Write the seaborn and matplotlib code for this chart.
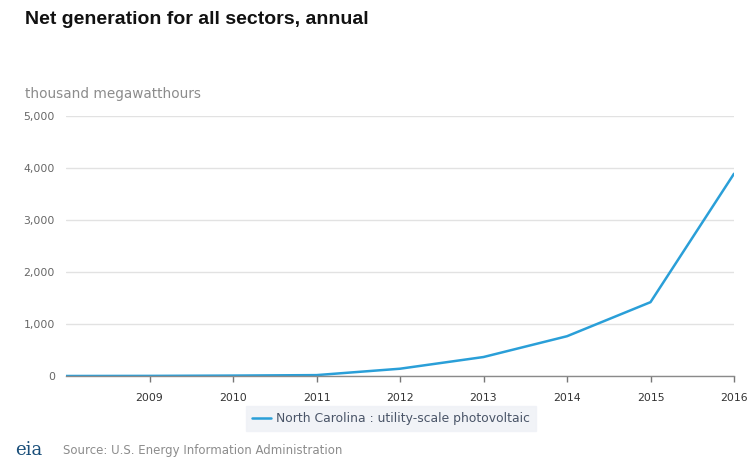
import matplotlib
matplotlib.use("Agg")
import matplotlib.pyplot as plt
import seaborn as sns
import pandas as pd
from matplotlib.ticker import FuncFormatter
from matplotlib.lines import Line2D

years = [2008, 2009, 2010, 2011, 2012, 2013, 2014, 2015, 2016]
values = [0, 2, 8, 17, 140, 365, 765, 1420, 3890]
series_name = "North Carolina : utility-scale photovoltaic"
tick_years = [2009, 2010, 2011, 2012, 2013, 2014, 2015, 2016]
y_ticks = [0, 1000, 2000, 3000, 4000, 5000]

df = pd.DataFrame({"year": years, "value": values, "series": series_name})

sns.set_theme(style="white")
plt.rcParams['font.family'] = ['DejaVu Sans']

W, H = 756, 461
fig = plt.figure(figsize=(W / 100, H / 100), dpi=100)
ax = fig.add_axes([66 / W, (H - 376) / H, (734 - 66) / W, (376 - 116) / H])

line_color = "#2a9fd8"
sns.lineplot(data=df, x="year", y="value", hue="series", palette=[line_color],
             linewidth=1.8, ax=ax, legend=False)

ax.set_xlim(2008, 2016)
ax.set_ylim(0, 5000)
ax.set_xticks(tick_years)
ax.set_xticklabels([str(y) for y in tick_years])
ax.set_yticks(y_ticks)
ax.yaxis.set_major_formatter(FuncFormatter(lambda v, p: f"{int(v):,}"))
for s in ["top", "right", "left"]:
    ax.spines[s].set_visible(False)
ax.spines["bottom"].set_color("#8a8a8a")
ax.spines["bottom"].set_linewidth(1.0)
ax.grid(axis="y", color="#e2e2e2", linewidth=1.0)
ax.grid(axis="x", visible=False)
ax.set_axisbelow(True)
ax.tick_params(axis="x", bottom=True, length=4, width=1, color="#777777", labelsize=7.8,
               labelcolor="#333333", pad=8)
ax.tick_params(axis="y", left=False, labelsize=7.8, labelcolor="#666666", pad=2)
ax.set_xlabel("")
ax.set_ylabel("")

fig.text(25 / W, 1 - 20 / H, "Net generation for all sectors, annual", fontsize=14,
         fontweight="bold", color="#111111", va="center", ha="left",
         family=["Liberation Sans", "DejaVu Sans"])
fig.text(25 / W, 1 - 94 / H, "thousand megawatthours", fontsize=9.8,
         color="#8c8c8c", va="center", ha="left")

handle = Line2D([], [], color=line_color, linewidth=1.8)
leg = fig.legend([handle], [series_name], loc="center",
                 bbox_to_anchor=(391 / W, 1 - 418.5 / H),
                 frameon=True, fontsize=8.9, handlelength=1.6, handletextpad=0.4,
                 borderpad=0.45, fancybox=False)
leg.get_frame().set_facecolor("#eef1f6")
leg.get_frame().set_edgecolor("#eef1f6")
for t in leg.get_texts():
    t.set_color("#4a5568")

fig.text(15 / W, 1 - 450 / H, "eia", fontsize=13, color="#1a4f7a", va="center",
         ha="left", family=["DejaVu Serif"])
fig.text(63 / W, 1 - 450 / H, "Source: U.S. Energy Information Administration",
         fontsize=8.5, color="#8c8c8c", va="center", ha="left")

fig.savefig("out.png", dpi=100, facecolor="white")
